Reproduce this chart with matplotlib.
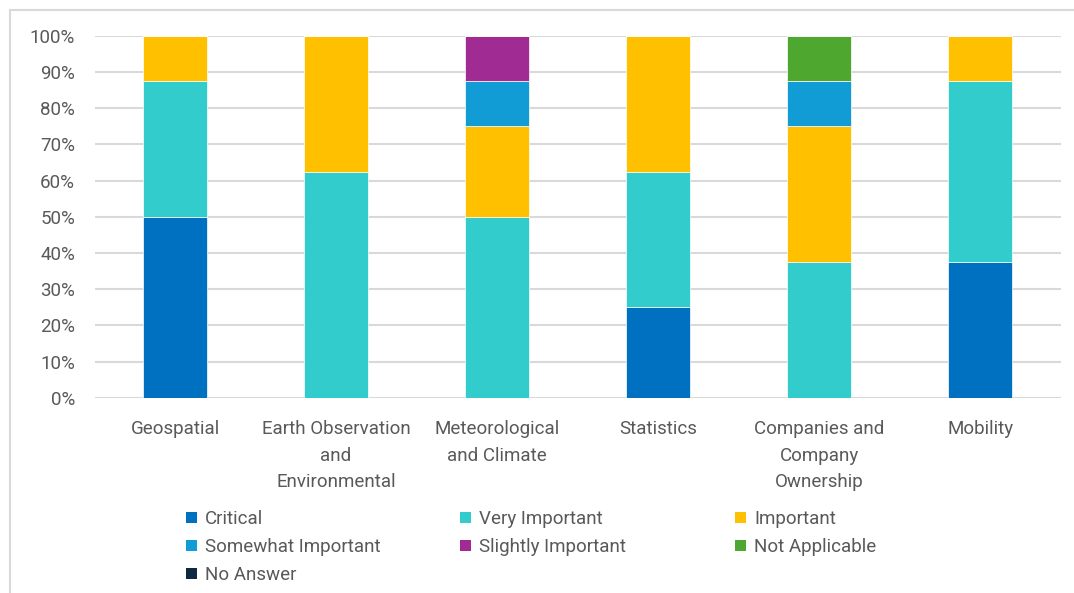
import matplotlib
matplotlib.use("Agg")
import matplotlib.pyplot as plt
from matplotlib.patches import Patch
from matplotlib.lines import Line2D
from matplotlib.ticker import PercentFormatter

categories = [
    "Geospatial",
    "Earth Observation\nand\nEnvironmental",
    "Meteorological\nand Climate",
    "Statistics",
    "Companies and\nCompany\nOwnership",
    "Mobility",
]

critical = [50.0, 0.0, 0.0, 25.0, 0.0, 37.5]
very_important = [37.5, 62.5, 50.0, 37.5, 37.5, 50.0]
important = [12.5, 37.5, 25.0, 37.5, 37.5, 12.5]
somewhat_important = [0.0, 0.0, 12.5, 0.0, 12.5, 0.0]
slightly_important = [0.0, 0.0, 12.5, 0.0, 0.0, 0.0]
not_applicable = [0.0, 0.0, 0.0, 0.0, 12.5, 0.0]
no_answer = [0.0, 0.0, 0.0, 0.0, 0.0, 0.0]

series_names = ["Critical", "Very Important", "Important", "Somewhat Important",
                "Slightly Important", "Not Applicable", "No Answer"]
series_values = [critical, very_important, important, somewhat_important,
                 slightly_important, not_applicable, no_answer]
colors = ["#0070C0", "#33CCCC", "#FFC000", "#129CD6", "#A02B93", "#4EA72E", "#0E2841"]

text_color = "#595959"
grid_color = "#D9D9D9"
font_size = 13.5
plt.rcParams["font.family"] = ["Roboto", "DejaVu Sans"]

fig = plt.figure(figsize=(10.74, 5.93), dpi=100)
ax = fig.add_axes([0.088, 0.329, 0.8995, 0.6105])

x = list(range(len(categories)))
bottom = [0.0] * len(categories)
for name, vals, col in zip(series_names, series_values, colors):
    ax.bar(x, vals, width=0.4, bottom=bottom, color=col, label=name,
           edgecolor="white", linewidth=0.5, zorder=3)
    bottom = [b + v for b, v in zip(bottom, vals)]

ax.set_xlim(-0.5, len(categories) - 0.5)
ax.set_ylim(0, 100)
ax.set_yticks(range(0, 101, 10))
ax.yaxis.set_major_formatter(PercentFormatter(decimals=0))
ax.set_xticks(x)
ax.set_xticklabels(categories, linespacing=1.6)
ax.tick_params(axis="both", length=0, colors=text_color, labelsize=font_size)
ax.tick_params(axis="x", pad=16)
ax.tick_params(axis="y", pad=14)
ax.grid(axis="y", color=grid_color, linewidth=1.5, zorder=0)
for s in ax.spines.values():
    s.set_visible(False)

# Outer chart-area frame (top and left edges)
fig.add_artist(Line2D([10 / 1074, 1.0], [1 - 9.5 / 593] * 2,
                      transform=fig.transFigure, color=grid_color, linewidth=1.5))
fig.add_artist(Line2D([10 / 1074] * 2, [0.0, 1 - 9.5 / 593],
                      transform=fig.transFigure, color=grid_color, linewidth=1.5))

# Legend: three columns, filled row by row
col_x = [186 / 1074, 460 / 1074, 735 / 1074]
columns = [[0, 3, 6], [1, 4], [2, 5]]
for cx, idx in zip(col_x, columns):
    leg = fig.legend([Patch(facecolor=colors[i], edgecolor="none") for i in idx],
                     [series_names[i] for i in idx],
                     loc="upper left", bbox_to_anchor=(cx, 1 - 510 / 593),
                     frameon=False, fontsize=font_size, handlelength=0.58,
                     handleheight=0.58, handletextpad=0.45, labelspacing=0.54,
                     borderaxespad=0, borderpad=0)
    for t in leg.get_texts():
        t.set_color(text_color)

fig.savefig("out.png", dpi=100, facecolor="white")
